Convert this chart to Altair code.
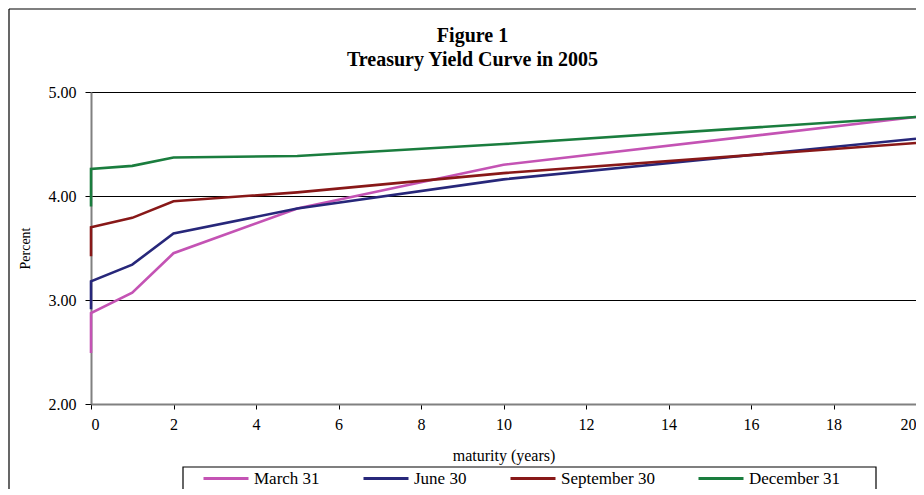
import altair as alt
import pandas as pd

# Maturities in years (the two short-term points are plotted at 0)
maturity = [0, 0, 1, 2, 5, 10, 20]
series_names = ["March 31", "June 30", "September 30", "December 31"]
march_31 = [2.49, 2.875, 3.07, 3.45, 3.88, 4.30, 4.76]
june_30 = [2.91, 3.18, 3.34, 3.64, 3.88, 4.16, 4.55]
september_30 = [3.42, 3.70, 3.79, 3.95, 4.035, 4.22, 4.51]
december_31 = [3.90, 4.26, 4.29, 4.37, 4.385, 4.50, 4.76]
colors = ["#C453B4", "#27277A", "#881818", "#1A7D3E"]
x_ticks = list(range(0, 21, 2))
y_ticks = [2, 3, 4, 5]

rows = []
for name, vals in zip(series_names, [march_31, june_30, september_30, december_31]):
    for i, (m, v) in enumerate(zip(maturity, vals)):
        rows.append({"series": name, "maturity": m, "yield": v, "idx": i})
df = pd.DataFrame(rows)

FONT = "Liberation Serif"

lines = alt.Chart(df).mark_line(strokeWidth=2.6).encode(
    x=alt.X("maturity:Q",
            scale=alt.Scale(domain=[0, 20], nice=False),
            axis=alt.Axis(values=x_ticks, grid=False, domainColor="#808080",
                          domainWidth=2, tickColor="black", tickSize=5,
                          labelFont=FONT, labelFontSize=16, labelColor="black",
                          labelPadding=7, title="maturity (years)",
                          titleFont=FONT, titleFontSize=16,
                          titleFontWeight="normal", titleColor="black",
                          titlePadding=15, zindex=1)),
    y=alt.Y("yield:Q",
            scale=alt.Scale(domain=[2, 5], nice=False),
            axis=alt.Axis(values=y_ticks, format=".2f", grid=True,
                          gridColor="black", gridWidth=1,
                          domainColor="#808080", domainWidth=2,
                          tickColor="black", tickSize=6,
                          labelFont=FONT, labelFontSize=16, labelColor="black",
                          labelPadding=9, title="Percent", titleFont=FONT,
                          titleFontSize=14, titleFontWeight="normal",
                          titleColor="black", titlePadding=16)),
    color=alt.Color("series:N",
                    scale=alt.Scale(domain=series_names, range=colors),
                    legend=alt.Legend(title=None, orient="none",
                                      legendX=111, legendY=362.5,
                                      direction="horizontal", columns=4,
                                      symbolType="M-1,0L1,0", symbolSize=2025,
                                      symbolStrokeWidth=3, labelFont=FONT,
                                      labelFontSize=17, labelColor="black",
                                      labelOffset=4, columnPadding=37,
                                      padding=0, gridAlign="none")),
    order="idx:Q",
)

frame_df = pd.DataFrame({"k": [0]})
frame_left = alt.Chart(frame_df).mark_rule(color="black", strokeWidth=1.2).encode(
    x=alt.value(-82), y=alt.value(-83), y2=alt.value(600))
frame_top = alt.Chart(frame_df).mark_rule(color="black", strokeWidth=1.2).encode(
    x=alt.value(-82), x2=alt.value(1000), y=alt.value(-83))
legend_box = alt.Chart(frame_df).mark_rect(
    fill="white", fillOpacity=0, stroke="black", strokeWidth=1.2).encode(
    x=alt.value(92), x2=alt.value(785), y=alt.value(375), y2=alt.value(440))

chart = alt.layer(lines, frame_left, frame_top, legend_box).properties(
    width=825, height=312,
    autosize=alt.AutoSizeParams(type="none"),
    padding={"left": 83, "top": 84, "right": 0, "bottom": 85},
    title=alt.TitleParams(text=["Figure 1", "Treasury Yield Curve in 2005"],
                          font=FONT, fontSize=20, fontWeight="bold",
                          anchor="middle", frame="group", dx=-31, dy=82,
                          offset=20, lineHeight=24, color="black"),
).configure_view(stroke=None).configure(background="white")

chart.save("out.html", embed_options={"renderer": "svg", "actions": False})
